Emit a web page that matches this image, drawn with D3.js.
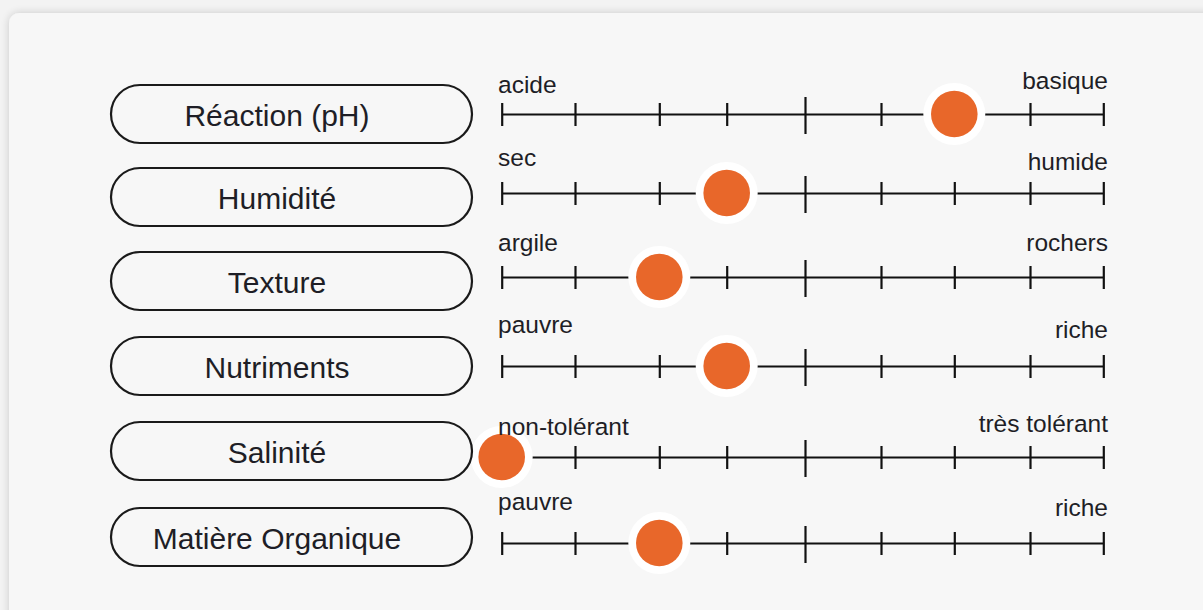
<!DOCTYPE html>
<html>
<head>
<meta charset="utf-8">
<script src="https://cdn.jsdelivr.net/npm/d3@7"></script>
<style>
  html, body { margin: 0; padding: 0; background: #f1f1f1; }
  svg { display: block; }
</style>
</head>
<body>
<svg id="chart" width="1203" height="610"></svg>
<script>
// ---- data ----
const categories = ["Réaction (pH)", "Humidité", "Texture", "Nutriments", "Salinité", "Matière Organique"];
const values = [6, 3, 2, 3, 0, 2];
const leftLabels = ["acide", "sec", "argile", "pauvre", "non-tolérant", "pauvre"];
const rightLabels = ["basique", "humide", "rochers", "riche", "très tolérant", "riche"];
const scaleTicks = [0, 1, 2, 3, 4, 5, 6, 7, 8];
const midTick = 4;

// ---- layout (not data) ----
const tickPixelStops = [501.7, 575, 659.3, 726.7, 805, 881, 954.3, 1030, 1103.3];
const lineY = [114, 193, 277, 366, 457, 543];
const pillY = [114, 197, 281, 366, 451, 537];
const leftLabelY = [93, 166, 251, 333, 435, 510];
const rightLabelY = [89, 170, 251, 338, 432, 516];

const W = 1203, H = 610;
const svg = d3.select("#chart");

// shadow filter
const defs = svg.append("defs");
const f = defs.append("filter").attr("id", "shadow").attr("x", "-5%").attr("y", "-5%").attr("width", "110%").attr("height", "110%");
f.append("feGaussianBlur").attr("in", "SourceAlpha").attr("stdDeviation", 4).attr("result", "b");
f.append("feComponentTransfer").attr("in", "b").attr("result", "o2")
  .append("feFuncA").attr("type", "linear").attr("slope", 0.18);
const m = f.append("feMerge");
m.append("feMergeNode").attr("in", "o2");
m.append("feMergeNode").attr("in", "SourceGraphic");

svg.append("rect").attr("width", W).attr("height", H).attr("fill", "#f3f3f3");
svg.append("rect")
  .attr("x", 9).attr("y", 13).attr("width", W + 40).attr("height", H + 40)
  .attr("rx", 10)
  .attr("fill", "#f7f7f7")
  .attr("filter", "url(#shadow)");

const x = d3.scaleLinear().domain(scaleTicks).range(tickPixelStops);

const font = "'Liberation Sans', Arial, Helvetica, sans-serif";
const ink = "#1e1e26";

const rows = svg.selectAll("g.row")
  .data(categories.map((c, i) => ({ c, i, v: values[i] })))
  .join("g").attr("class", "row");

// scale line + ticks using d3 axis
rows.each(function (d) {
  const g = d3.select(this).append("g")
    .attr("transform", `translate(0,${lineY[d.i]})`)
    .call(d3.axisBottom(x).tickValues(scaleTicks).tickSize(0).tickFormat("").tickSizeOuter(0));
  g.select(".domain").attr("stroke", "#111").attr("stroke-width", 2.2);
  g.selectAll(".tick line")
    .attr("stroke", "#111").attr("stroke-width", 2.2)
    .attr("y1", t => t === midTick ? -17 : -11)
    .attr("y2", t => t === midTick ? 20 : 12);
});

// dots
rows.append("circle")
  .attr("cx", d => x(d.v)).attr("cy", d => lineY[d.i])
  .attr("r", 31).attr("fill", "#ffffff");
rows.append("circle")
  .attr("cx", d => x(d.v)).attr("cy", d => lineY[d.i])
  .attr("r", 23.3).attr("fill", "#e8672a");

// end labels
rows.append("text")
  .attr("x", 498).attr("y", d => leftLabelY[d.i])
  .attr("font-family", font).attr("font-size", 24.5).attr("fill", ink)
  .text(d => leftLabels[d.i]);
rows.append("text")
  .attr("x", 1108).attr("y", d => rightLabelY[d.i])
  .attr("text-anchor", "end")
  .attr("font-family", font).attr("font-size", 24.5).attr("fill", ink)
  .text(d => rightLabels[d.i]);

// pills
rows.append("rect")
  .attr("x", 111).attr("y", d => pillY[d.i] - 29)
  .attr("width", 361).attr("height", 58).attr("rx", 29)
  .attr("fill", "none").attr("stroke", "#1a1a1a").attr("stroke-width", 2.2);
rows.append("text")
  .attr("x", 277).attr("y", d => pillY[d.i] + 12)
  .attr("text-anchor", "middle")
  .attr("font-family", font).attr("font-size", 30).attr("fill", ink)
  .text(d => d.c);
</script>
</body>
</html>
